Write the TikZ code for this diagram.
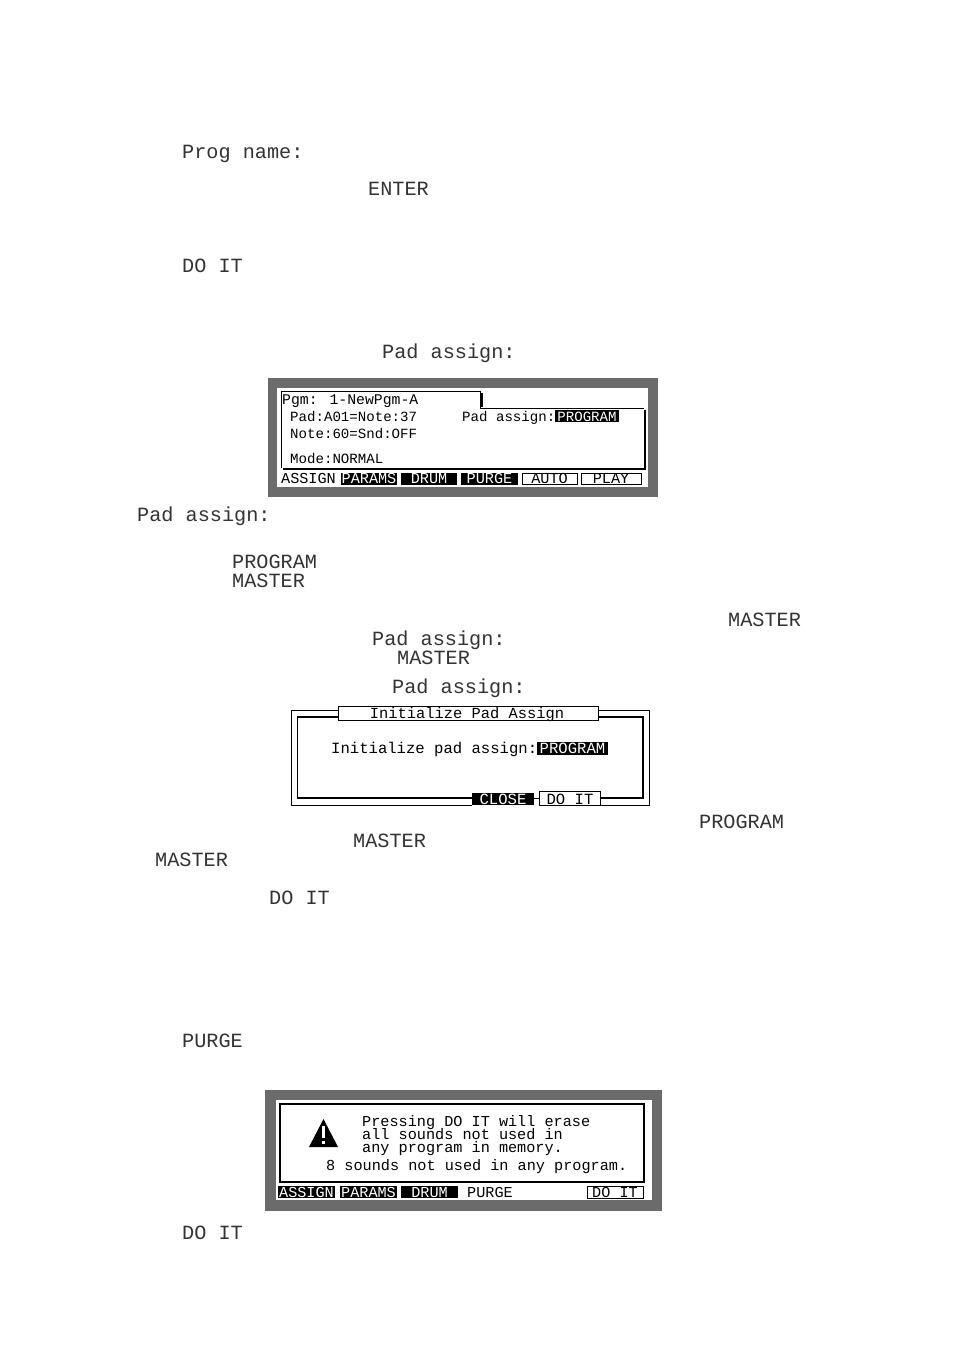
\documentclass[tikz,border=0pt]{standalone}
\usepackage{fontspec}
\usepackage{xcolor}
\newfontfamily\lcdfont{Liberation Mono}
\definecolor{lcdgrey}{HTML}{6B6B6B}
\tikzset{
  bigtxt/.style={anchor=base west,inner sep=0pt,yshift=-0.7pt,font=\lcdfont\fontsize{20.2}{20.2}\selectfont,text=black!80},
  smalltxt/.style={anchor=base west,inner sep=0pt,font=\lcdfont\fontsize{15.2}{15.2}\selectfont},
  padtxt/.style={smalltxt,font=\lcdfont\fontsize{14.1}{14.1}\selectfont},
  softtxt/.style={smalltxt,anchor=base,text=white},
  softline/.style={smalltxt,anchor=base,text=black},
}
\begin{document}
\begin{tikzpicture}[x=1pt,y=-1pt]
            \useasboundingbox (0,0) rectangle (954,1351);
            % running labels
            \foreach \i/\xx/\yy/\lbl in {1/182/158/Prog name:,2/368/195/ENTER,3/182/272/DO IT,
                4/382/358/Pad assign:,5/137/521/Pad assign:,6/232/568/PROGRAM,7/232/587/MASTER,
                8/728/626/MASTER,9/372/645/Pad assign:,10/397/664/MASTER,11/392/693/Pad assign:,
                12/699/828/PROGRAM,13/353/847/MASTER,14/155/866/MASTER,15/269/904/DO IT,
                16/182/1047/PURGE,17/182/1239/DO IT}
                \node[bigtxt] (label\i) at (\xx,\yy) {\lbl};
            % first screen
            \fill[lcdgrey] (268,378) rectangle (658,497);
            \fill[white] (277,388) rectangle (648,487);
            \draw[line width=2.2pt] (283,469) -- (645,469) -- (645,410);
            \draw[line width=2.2pt] (482,393) -- (482,407);
            \draw[line width=1pt] (281,468) -- (281,391) -- (480,391) -- (480,408) -- (644,408);
            \node[padtxt,font=\lcdfont\fontsize{14.8}{14.8}\selectfont] (pgmname) at (282,404) {Pgm: 1-NewPgm-A};
            \node[padtxt] (padnote) at (290,421) {Pad:A01=Note:37};
            \node[padtxt] (notesnd) at (290,438) {Note:60=Snd:OFF};
            \node[padtxt] (modename) at (290,463) {Mode:NORMAL};
            \node[padtxt] (padassign) at (462,421) {Pad assign:};
            \fill (555,410) rectangle (619,422);
            \node[softtxt,font=\lcdfont\fontsize{14.1}{14.1}\selectfont] (padvalue) at (587,421) {PROGRAM};
            \node[softline] (softa) at (308.5,483) {ASSIGN};
            \foreach \i/\xa/\xb/\lbl in {1/341/397/PARAMS,2/401/457/DRUM,3/461/518/PURGE} {
                \fill (\xa,473) rectangle (\xb,485);
                \node[softtxt] (softb\i) at ({(\xa+\xb)/2},483) {\lbl};
            }
            \foreach \i/\xa/\xb/\lbl in {1/522/577/AUTO,2/581/641/PLAY} {
                \draw[line width=1pt] (\xa,473.5) rectangle (\xb,484.5);
                \node[softline] (softc\i) at ({(\xa+\xb)/2},483) {\lbl};
            }
            % second screen
            \draw[line width=1pt] (291,710) rectangle (649,805);
            \draw[line width=1.6pt] (297.5,717) rectangle (643,798);
            \fill[white] (472,788) rectangle (601,806);
            \draw[fill=white,line width=1pt] (338.5,706.5) rectangle (598.5,720.5);
            \node[softline,font=\lcdfont\fontsize{15.4}{15.4}\selectfont] (inittitle) at (467,718) {Initialize Pad Assign};
            \node[smalltxt,font=\lcdfont\fontsize{15.6}{15.6}\selectfont] (initline) at (331,753) {Initialize pad assign:};
            \fill (537,742) rectangle (608,755);
            \node[softtxt,font=\lcdfont\fontsize{15.6}{15.6}\selectfont] (initvalue) at (572.5,753) {PROGRAM};
            \fill (472,793) rectangle (534,805);
            \node[softtxt,font=\lcdfont\fontsize{15.6}{15.6}\selectfont] (closekey) at (503,804) {CLOSE};
            \draw (534,798) -- (539,798);
            \draw[fill=white,line width=1pt] (539.5,791.5) rectangle (600.5,805);
            \node[softline,font=\lcdfont\fontsize{15.6}{15.6}\selectfont] (doitkey) at (570,804) {DO IT};
            % third screen
            \fill[lcdgrey] (265,1090) rectangle (662,1211);
            \fill[white] (276,1100) rectangle (652,1200);
            \draw[line width=2pt] (280,1104) rectangle (644,1182);
            \fill[line join=round] (323.5,1119) -- (338,1147) -- (309,1147) -- cycle;
            \fill[white] (322.3,1126) rectangle (324.7,1138);
            \fill[white] (322.3,1140.5) rectangle (324.7,1144);
            \foreach \i/\xx/\yy/\lbl in {1/362/1126/Pressing DO IT will erase,2/362/1139/all sounds not used in,
                3/362/1152/any program in memory.,4/326/1170/8 sounds not used in any program.}
                \node[smalltxt] (warn\i) at (\xx,\yy) {\lbl};
            \foreach \i/\xa/\xb/\lbl in {1/278/335/ASSIGN,2/340/397/PARAMS,3/401/458/DRUM} {
                \fill (\xa,1186) rectangle (\xb,1198);
                \node[softtxt] (softd\i) at ({(\xa+\xb)/2},1197) {\lbl};
            }
            \node[softline] (softe) at (490,1197) {PURGE};
            \draw[line width=1pt] (587,1186) rectangle (643,1198);
            \node[softline] (softf) at (615,1197) {DO IT};
\end{tikzpicture}
\end{document}
